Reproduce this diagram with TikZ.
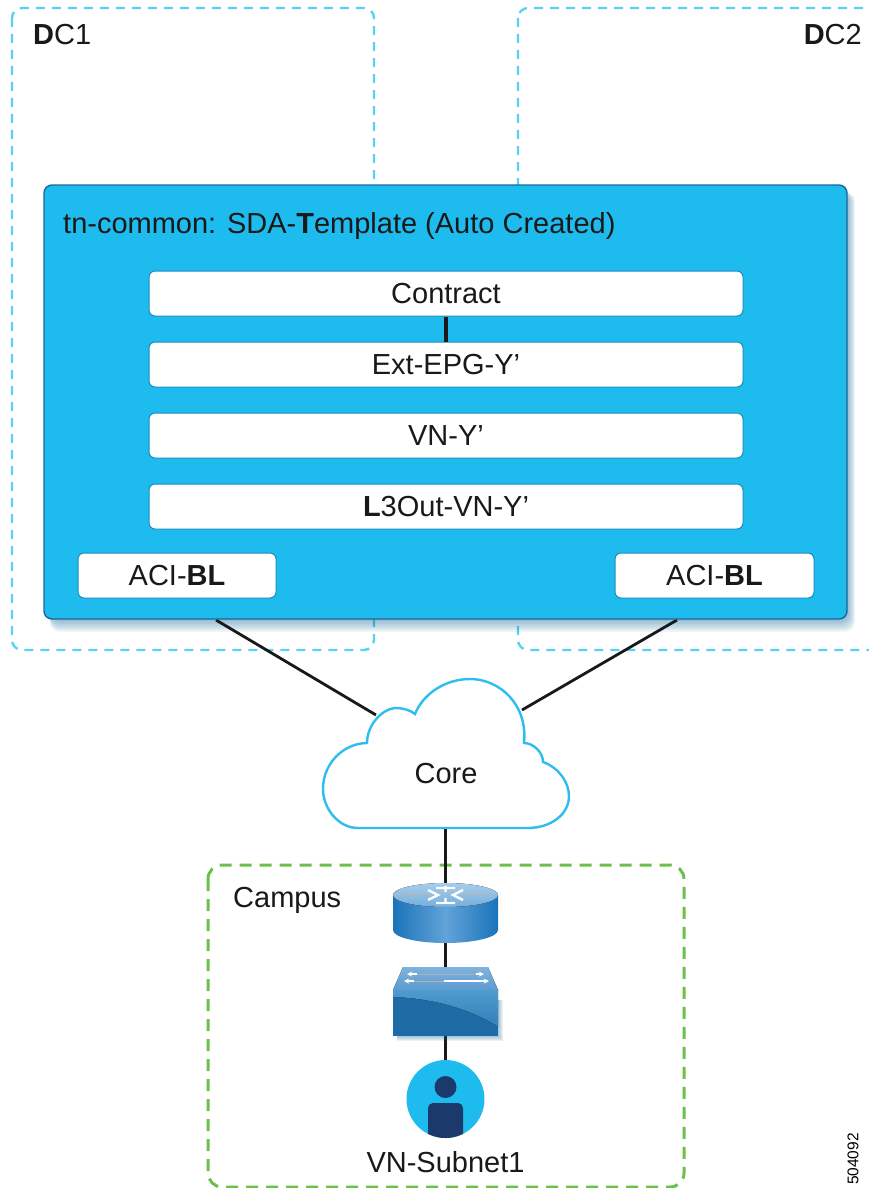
\documentclass[tikz,border=0pt]{standalone}
\usepackage{fontspec}
\setmainfont{Liberation Sans}
\usetikzlibrary{shadows,calc}
\definecolor{dcblue}{HTML}{55D2F5}
\definecolor{tenant}{HTML}{1EBBEE}
\definecolor{tenantedge}{HTML}{17689A}
\definecolor{cloudblue}{HTML}{2DBDEE}
\definecolor{campusgreen}{HTML}{6CC04A}
\definecolor{navy}{HTML}{1B3A6B}
\definecolor{rtedge}{HTML}{1A74BA}
\definecolor{rtmid}{HTML}{62A3D8}
\definecolor{rttopa}{HTML}{A9CCE8}
\definecolor{rttopb}{HTML}{74AEDC}
\definecolor{swtopa}{HTML}{7FB2DE}
\definecolor{swtopb}{HTML}{5C9BD0}
\definecolor{swdark}{HTML}{1F6BA5}
\definecolor{swlighta}{HTML}{4E9BD0}
\definecolor{swlightb}{HTML}{3480B6}
\tikzset{
 x=1pt,y=-1pt,
 dcbox/.style={draw=dcblue,line width=2.4pt,dash pattern=on 9pt off 7pt,rounded corners=10pt},
 campusbox/.style={draw=campusgreen,line width=3pt,dash pattern=on 12pt off 8pt,rounded corners=14pt},
 softshadow/.style={fill=tenantedge,opacity=.07,rounded corners=10pt},
 mainbox/.style={draw=tenantedge,line width=1.4pt,fill=tenant,rounded corners=8pt,inner sep=0pt},
 whitebox/.style={draw=tenantedge!55!tenant,line width=1pt,fill=white,rounded corners=6pt,inner sep=0pt,text height=20.8pt,text depth=0pt,text=black!90,font=\fontsize{29}{31}\selectfont},
 label/.style={inner sep=0pt,font=\fontsize{29}{31}\selectfont,text=black!90},
 wire/.style={draw=black!90,line width=2.8pt},
 thickwire/.style={draw=black!90,line width=4pt},
 arrowline/.style={white,line width=1.3pt,-stealth},
 greyline/.style={black!30,line width=.8pt},
}
\begin{document}
\begin{tikzpicture}
\useasboundingbox (0,0) rectangle (869,1188);
\clip (0,0) rectangle (869,1188);
% data-centre outlines
\draw[dcbox] (12,8) rectangle (374,650);
\draw[dcbox] (518,8) rectangle (900,650);
\node[label,anchor=base west] (dc1) at (33,45) {\textbf{D}C1};
\node[label,anchor=base east] (dc2) at (862,45) {\textbf{D}C2};
% campus outline
\draw[campusbox] (208,865) rectangle (684,1187);
\node[label,anchor=base west] (campus) at (233,907) {Campus};
% free ends of the wires
\coordinate (blA) at (216,620);
\coordinate (blB) at (677,620);
\coordinate (cloudA) at (376,715);
\coordinate (cloudB) at (522,710);
\coordinate (cloudC) at (445.5,829);
\coordinate (rttop) at (445.5,885);
\coordinate (rtbot) at (445.5,942);
\coordinate (swtop) at (445.5,968);
\coordinate (swbot) at (445.5,1036);
% soft shadow of the tenant box
\foreach \i in {1,...,8}
 \fill[softshadow] (50,192) rectangle (847+\i,619+1.6*\i);
% wires
\draw[wire] (blA) -- (cloudA);
\draw[wire] (blB) -- (cloudB);
% tenant
\node[mainbox,minimum width=803pt,minimum height=434pt] (tn) at (445.5,402) {};
\node[label,anchor=base west] (tntitle) at (63,233) {tn-common: SDA-\textbf{T}emplate (Auto Created)};
\node[whitebox,minimum width=594pt,minimum height=45pt] (contract) at (446,293.5) {Contract};
\node[whitebox,minimum width=594pt,minimum height=45pt] (ext) at (446,364.5) {Ext-EPG-Y’};
\node[whitebox,minimum width=594pt,minimum height=45pt] (vn) at (446,435.5) {VN-Y’};
\node[whitebox,minimum width=594pt,minimum height=45pt] (l3) at (446,506.5) {\textbf{L}3Out-VN-Y’};
\node[whitebox,minimum width=198pt,minimum height=45pt] (acia) at (177,575.5) {ACI-\textbf{BL}};
\node[whitebox,minimum width=199pt,minimum height=45pt] (acib) at (714.5,575.5) {ACI-\textbf{BL}};
\draw[thickwire] (contract) -- (ext);
% cloud
\draw[draw=cloudblue,line width=2.4pt,fill=white]
 (358,828) .. controls (338,828) and (323,808) .. (323,789)
 .. controls (323,762) and (345,743) .. (367,743)
 .. controls (367,725) and (382,709) .. (395,708)
 .. controls (403,708) and (410,710) .. (415,714)
 .. controls (423,694) and (445,679) .. (470,679)
 .. controls (500,679) and (528,705) .. (524,743)
 .. controls (533,743) and (543,752) .. (543,762)
 .. controls (558,767) and (569,782) .. (569,796)
 .. controls (569,815) and (550,828) .. (528,828) -- cycle;
\node[label,anchor=base] (core) at (446,783) {Core};
\draw[wire] (cloudC) -- (rttop);
\draw[wire] (rtbot) -- (swtop);
% router
\shade[left color=rtedge,right color=rtedge,middle color=rtmid]
 (393,895) -- (393,930) arc[start angle=180,end angle=0,x radius=52.5,y radius=13] -- (498,895) -- cycle;
\fill[top color=rttopa,bottom color=rttopb] (445.5,895) ellipse[x radius=52.5,y radius=12];
\draw[greyline] (403,895) -- (429,895) (462,895) -- (488,895);
\draw[white,line width=2.4pt] (428,890) -- (438,895) -- (428,900) (463,890) -- (453,895) -- (463,900)
 (436,888) -- (455,888) (436,903) -- (455,903) (445.5,886) -- (445.5,892) (445.5,898) -- (445.5,904);
% switch
\draw[wire] (swbot) -- (445.5,1066);
\fill[top color=swtopa,bottom color=swtopb] (403,967) -- (488,967) -- (498,990) -- (393,990) -- cycle;
\foreach \i in {1,...,5}
 \fill[tenantedge,opacity=.09] (397,1000) rectangle (498+\i,1036+\i);
\fill[swdark] (393,990) rectangle (498,1036);
\fill[top color=swlighta,bottom color=swlightb] (393,990) -- (498,990) -- (498,1027) .. controls (470,1008) and (430,998) .. (393,997) -- cycle;
\draw[greyline] (415,974) -- (478,974) (412,981) -- (444,981);
\draw[white,line width=1.3pt,stealth-] (407,974) -- (417,974);
\draw[white,line width=1.3pt,stealth-] (404,981) -- (414,981);
\draw[white,line width=1.3pt,-stealth] (476,974) -- (484,974);
\draw[arrowline] (444,981) -- (489,981);
% user
\node[circle,fill=tenant,minimum size=78pt,inner sep=0pt] (user) at (445.5,1099) {};
\fill[navy] (445.5,1087) circle (11);
\begin{scope}
 \clip (445.5,1099) circle (39);
 \fill[navy,rounded corners=5pt] (428,1103) rectangle (463,1150);
\end{scope}
\node[label,anchor=base] (subnet) at (445.5,1172) {VN-Subnet1};
\node[inner sep=0pt,rotate=90,font=\fontsize{15.5}{17}\selectfont] (id) at (853,1159) {504092};
\end{tikzpicture}
\end{document}
